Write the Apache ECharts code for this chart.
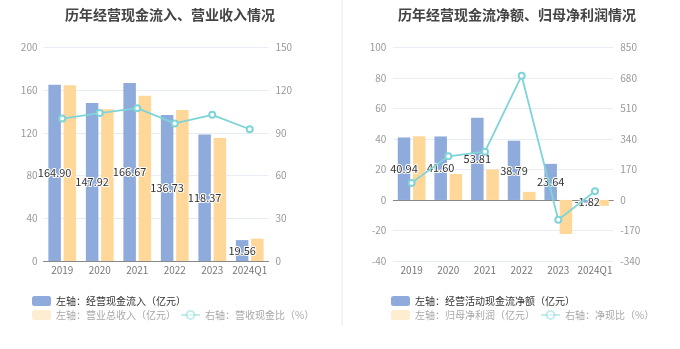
<!DOCTYPE html>
<html><head><meta charset="utf-8">
<script src="https://cdn.jsdelivr.net/npm/echarts@6/dist/echarts.min.js"></script>
<style>html,body{margin:0;padding:0;background:#fff}#c{width:680px;height:349px}</style>
</head><body><div id="c"></div>
<script>
const categories = ['2019','2020','2021','2022','2023','2024Q1'];
// Left panel
const cashInflow = [164.90, 147.92, 166.67, 136.73, 118.37, 19.56];
const revenue = [164.5, 142.0, 154.7, 141.3, 115.1, 20.9];
const cashRevRatio = [100.0, 103.8, 107.3, 96.6, 102.6, 92.5];
// Right panel
const netCashFlow = [40.94, 41.60, 53.81, 38.79, 23.64, -1.82];
const netProfit = [41.7, 17.0, 19.9, 5.3, -22.3, -3.9];
const netCashRatio = [95, 243, 269, 692, -110, 48];

const leftTicks = {min:0, max:200, interval:40};
const leftTicksR = {min:0, max:150, interval:30};
const rightTicks = {min:-40, max:100, interval:20};
const rightTicksR = {min:-340, max:850, interval:170};

const names = {
  a1:'左轴：经营现金流入（亿元）', a2:'左轴：营业总收入（亿元）', a3:'右轴：营收现金比（%）',
  b1:'左轴：经营活动现金流净额（亿元）', b2:'左轴：归母净利润（亿元）', b3:'右轴：净现比（%）'
};
const BLUE='#8eabdb', ORANGE='#ffd899', TEAL='#7fd4d7';
const FONT='"Noto Sans CJK SC", "Noto Sans", sans-serif';

const chart = echarts.init(document.getElementById('c'));
const yAxisBase = (t, pos, gi, split, margin) => ({
  type:'value', gridIndex:gi, position:pos, min:t.min, max:t.max, interval:t.interval,
  axisLine:{show:false}, axisTick:{show:false},
  axisLabel:{color:'#999', fontSize:10, margin:margin, fontFamily:FONT},
  splitLine:{show:split, lineStyle:{color:'#e8ecf5', width:1}}
});
const barLabel = {show:true, position:'inside', color:'#333', fontSize:11, fontFamily:FONT,
  textBorderColor:'#fff', textBorderWidth:2, formatter:p=>p.value.toFixed(2)};
const legendItem = (name, left, top, faded) => ({
  left:left, top:top, itemWidth:19, itemHeight:10, itemGap:6,
  textStyle:{color: faded ? '#a8a8a8' : '#333', fontSize:10, fontFamily:FONT},
  data:[{name:name, itemStyle: faded ? {opacity:0.45} : {}, lineStyle: faded ? {opacity:0.45} : {}}],
  selectedMode:false
});
const catLabel = {color:'#777', fontSize:10, margin:4, fontFamily:FONT, interval:0};

chart.setOption({
  animation:false,
  title:[
    {text:'历年经营现金流入、营业收入情况', left:165, top:3, textAlign:'center',
     textStyle:{fontSize:14, fontWeight:'bold', color:'#444', fontFamily:FONT}},
    {text:'历年经营现金流净额、归母净利润情况', left:512, top:3, textAlign:'center',
     textStyle:{fontSize:14, fontWeight:'bold', color:'#444', fontFamily:FONT}}
  ],
  graphic:[{type:'rect', shape:{x:341, y:0, width:2, height:326}, style:{fill:'#f4f4f4'}, silent:true}],
  legend:[
    legendItem(names.a1, 27, 291, false),
    legendItem(names.a2, 27, 305, true),
    legendItem(names.a3, 175, 305, true),
    legendItem(names.b1, 386, 291, false),
    legendItem(names.b2, 386, 305, true),
    legendItem(names.b3, 535, 305, true)
  ],
  grid:[
    {left:43.5, right:411.5, top:47.3, bottom:88},
    {left:393.3, right:66.7, top:47.3, bottom:88}
  ],
  xAxis:[
    {type:'category', gridIndex:0, data:categories,
     axisLine:{lineStyle:{color:'#888'}}, axisTick:{alignWithLabel:true, interval:0, length:4, lineStyle:{color:'#888'}},
     axisLabel:catLabel},
    {type:'category', gridIndex:1, data:categories,
     axisLine:{onZero:true, lineStyle:{color:'#888'}}, axisTick:{alignWithLabel:true, interval:0, length:4, lineStyle:{color:'#888'}},
     axisLabel:{show:false}},
    {type:'category', gridIndex:1, data:categories, position:'bottom',
     axisLine:{show:false, onZero:false}, axisTick:{show:false},
     axisLabel:catLabel}
  ],
  yAxis:[
    yAxisBase(leftTicks,'left',0,true,6),
    yAxisBase(leftTicksR,'right',0,false,7),
    yAxisBase(rightTicks,'left',1,true,7),
    yAxisBase(rightTicksR,'right',1,false,7)
  ],
  series:[
    {name:names.a1, type:'bar', xAxisIndex:0, yAxisIndex:0, data:cashInflow, barWidth:12.5, barGap:'22%',
     itemStyle:{color:BLUE}, label:barLabel, z:2},
    {name:names.a2, type:'bar', xAxisIndex:0, yAxisIndex:0, data:revenue, barWidth:12.5, barGap:'22%',
     itemStyle:{color:ORANGE}},
    {name:names.a3, type:'line', xAxisIndex:0, yAxisIndex:1, data:cashRevRatio,
     symbol:'emptyCircle', symbolSize:6, lineStyle:{color:TEAL, width:1.8}, itemStyle:{color:TEAL}, z:5},
    {name:names.b1, type:'bar', xAxisIndex:1, yAxisIndex:2, data:netCashFlow, barWidth:12.5, barGap:'22%',
     itemStyle:{color:BLUE}, label:barLabel, z:2},
    {name:names.b2, type:'bar', xAxisIndex:1, yAxisIndex:2, data:netProfit, barWidth:12.5, barGap:'22%',
     itemStyle:{color:ORANGE}},
    {name:names.b3, type:'line', xAxisIndex:1, yAxisIndex:3, data:netCashRatio,
     symbol:'emptyCircle', symbolSize:6, lineStyle:{color:TEAL, width:1.8}, itemStyle:{color:TEAL}, z:5}
  ]
});
</script>
</body></html>
